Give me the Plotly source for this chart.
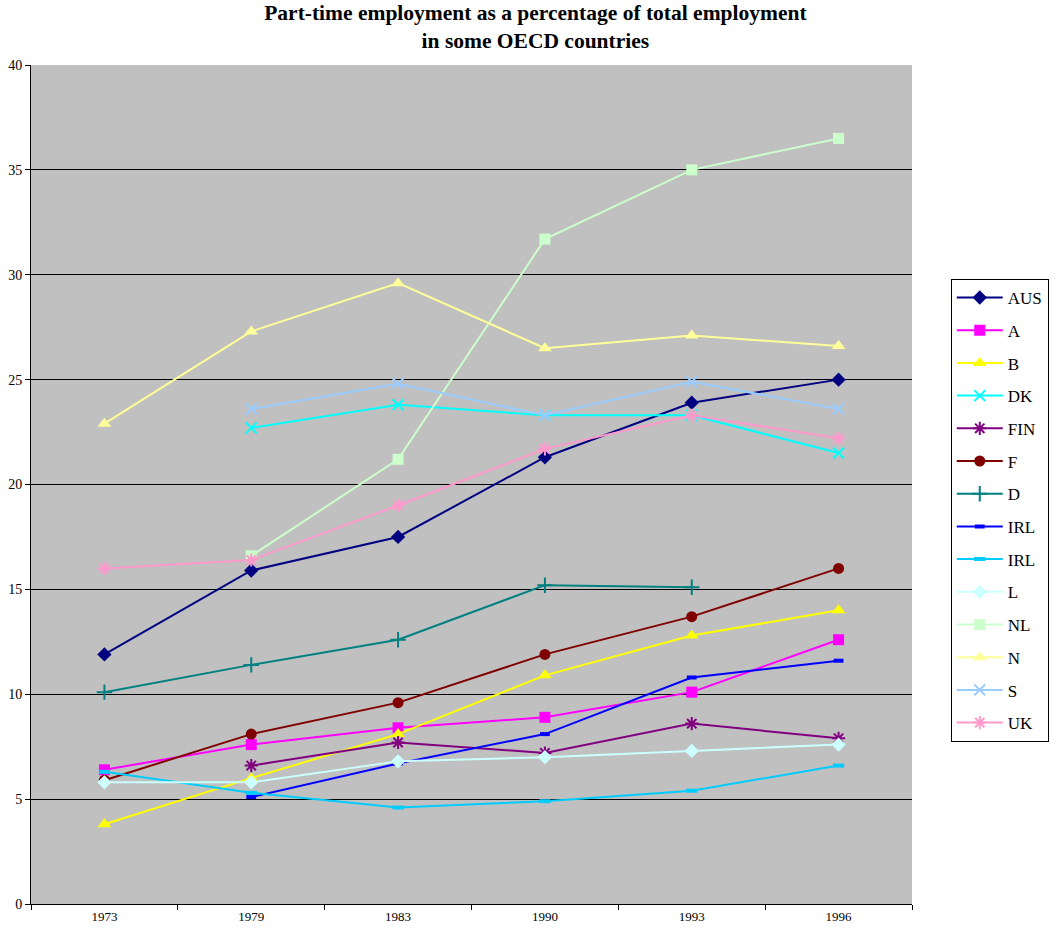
import plotly.graph_objects as go

years = ["1973", "1979", "1983", "1990", "1993", "1996"]

aus = [11.9, 15.9, 17.5, 21.3, 23.9, 25.0]
a = [6.4, 7.6, 8.4, 8.9, 10.1, 12.6]
b = [3.8, 6.0, 8.1, 10.9, 12.8, 14.0]
dk = [None, 22.7, 23.8, 23.3, 23.3, 21.5]
fin = [None, 6.6, 7.7, 7.2, 8.6, 7.9]
f = [5.9, 8.1, 9.6, 11.9, 13.7, 16.0]
d = [10.1, 11.4, 12.6, 15.2, 15.1, None]
irl_a = [None, 5.1, 6.7, 8.1, 10.8, 11.6]
irl_b = [6.3, 5.3, 4.6, 4.9, 5.4, 6.6]
lux = [5.8, 5.8, 6.8, 7.0, 7.3, 7.6]
nl = [None, 16.6, 21.2, 31.7, 35.0, 36.5]
nor = [22.9, 27.3, 29.6, 26.5, 27.1, 26.6]
swe = [None, 23.6, 24.8, 23.3, 24.9, 23.6]
uk = [16.0, 16.4, 19.0, 21.7, 23.3, 22.2]

series = [
    ("AUS", aus, "#000080", "diamond", 11),
    ("A", a, "#FF00FF", "square", 11),
    ("B", b, "#FFFF00", "triangle-up", 12),
    ("DK", dk, "#00FFFF", "x-thin-open", 11),
    ("FIN", fin, "#800080", "asterisk-open", 11),
    ("F", f, "#800000", "circle", 11),
    ("D", d, "#008080", "cross-thin-open", 11),
    ("IRL", irl_a, "#0000FF", "line-ew-open", 7),
    ("IRL", irl_b, "#00CCFF", "line-ew-open", 8),
    ("L", lux, "#CCFFFF", "diamond", 11),
    ("NL", nl, "#CCFFCC", "square", 11),
    ("N", nor, "#FFFF99", "triangle-up", 12),
    ("S", swe, "#99CCFF", "x-thin-open", 11),
    ("UK", uk, "#FF99CC", "asterisk-open", 11),
]

fig = go.Figure()
for i, (name, vals, color, symbol, size) in enumerate(series):
    open_sym = symbol.endswith("-open")
    marker = dict(symbol=symbol, size=size, color=color,
                  line=dict(color=color, width=4 if symbol.startswith("line") else (2 if open_sym else 0)))
    fig.add_trace(go.Scatter(
        x=years, y=vals, name=name, mode="lines+markers",
        line=dict(color=color, width=2),
        marker=marker, legendgroup=f"g{i}",
    ))

serif = "Liberation Serif, Times New Roman, serif"

fig.update_layout(
    width=1056, height=941,
    margin=dict(l=31, r=144, t=65, b=37, autoexpand=False),
    paper_bgcolor="white",
    plot_bgcolor="#C0C0C0",
    font=dict(family=serif, color="black"),
    title=dict(
        text="<b>Part-time employment as a percentage of total employment<br>in some OECD countries</b>",
        x=0.507, xref="container", xanchor="center",
        y=0.979, yref="container", yanchor="top",
        font=dict(family=serif, size=21.5, color="black"),
    ),
    showlegend=True,
    legend=dict(
        x=1.044, xanchor="left", y=0.745, yanchor="top",
        bordercolor="black", borderwidth=1, bgcolor="white",
        font=dict(family=serif, size=17, color="black"),
        itemwidth=46, tracegroupgap=7.6,
    ),
    xaxis=dict(
        type="category", range=[-0.5, 5.5], automargin=False,
        showgrid=False, showline=True, linecolor="black", linewidth=1,
        ticks="outside", tickson="boundaries", ticklen=5, tickcolor="black",
        tickfont=dict(family=serif, size=13), mirror=False, zeroline=False,
    ),
    yaxis=dict(
        range=[0, 40], dtick=5, tick0=0, automargin=False,
        showgrid=True, gridcolor="black", gridwidth=1,
        showline=True, linecolor="black", linewidth=1,
        ticks="outside", ticklen=5, tickcolor="black",
        tickfont=dict(family=serif, size=14), zeroline=False,
    ),
)

fig.write_html("out.html")
